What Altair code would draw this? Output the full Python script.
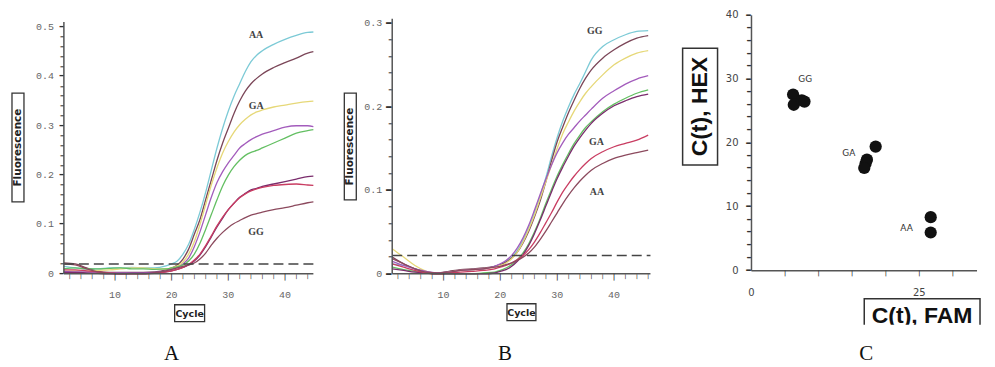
import altair as alt
import pandas as pd

# ---------------- Panel A data (fluorescence vs cycle) ----------------
CYC_A = [1, 3, 5, 7, 9, 11, 13, 15, 17, 19, 20, 21, 22, 23, 24, 25, 26, 27, 28, 29,
         30, 31, 32, 33, 34, 35, 36, 38, 40, 42, 44, 45]
A_CYAN = [0.015, 0.012, 0.010, 0.010, 0.012, 0.012, 0.013, 0.012, 0.012, 0.016, 0.020, 0.026, 0.040, 0.060, 0.090, 0.125,
          0.165, 0.210, 0.255, 0.295, 0.330, 0.360, 0.385, 0.410, 0.430, 0.443, 0.452, 0.465, 0.475, 0.483, 0.489, 0.490]
A_MAROON = [0.022, 0.020, 0.012, 0.005, 0.003, 0.003, 0.003, 0.003, 0.004, 0.008, 0.012, 0.018, 0.030, 0.050, 0.080, 0.110,
            0.150, 0.190, 0.230, 0.265, 0.295, 0.325, 0.350, 0.370, 0.385, 0.396, 0.405, 0.418, 0.428, 0.437, 0.447, 0.450]
A_YELLOW = [0.005, 0.006, 0.006, 0.007, 0.008, 0.010, 0.012, 0.012, 0.010, 0.010, 0.012, 0.016, 0.024, 0.040, 0.065, 0.100,
            0.140, 0.180, 0.215, 0.245, 0.268, 0.287, 0.302, 0.313, 0.322, 0.328, 0.332, 0.338, 0.342, 0.346, 0.349, 0.350]
A_PURPLE = [0.005, 0.004, 0.004, 0.003, 0.002, 0.002, 0.002, 0.002, 0.003, 0.006, 0.009, 0.013, 0.020, 0.032, 0.055, 0.085,
            0.120, 0.155, 0.185, 0.207, 0.225, 0.240, 0.255, 0.264, 0.272, 0.278, 0.283, 0.290, 0.297, 0.300, 0.300, 0.298]
A_GREEN = [0.010, 0.012, 0.010, 0.010, 0.011, 0.012, 0.010, 0.010, 0.009, 0.010, 0.012, 0.014, 0.018, 0.026, 0.040, 0.062,
           0.090, 0.120, 0.150, 0.178, 0.200, 0.217, 0.230, 0.240, 0.246, 0.250, 0.255, 0.265, 0.275, 0.285, 0.290, 0.292]
A_DKPURPLE = [0.003, 0.003, 0.002, 0.001, 0.000, 0.000, 0.001, 0.001, 0.002, 0.004, 0.006, 0.009, 0.013, 0.018, 0.026, 0.038,
              0.055, 0.075, 0.095, 0.113, 0.130, 0.143, 0.155, 0.163, 0.170, 0.173, 0.177, 0.182, 0.187, 0.192, 0.197, 0.198]
A_RED = [0.008, 0.008, 0.006, 0.004, 0.002, 0.000, 0.000, 0.000, 0.001, 0.004, 0.006, 0.009, 0.013, 0.019, 0.028, 0.040,
         0.057, 0.077, 0.097, 0.115, 0.130, 0.143, 0.154, 0.162, 0.168, 0.172, 0.175, 0.179, 0.181, 0.182, 0.180, 0.179]
A_BROWN = [0.020, 0.018, 0.010, 0.004, 0.001, 0.000, 0.000, 0.000, 0.002, 0.006, 0.009, 0.012, 0.015, 0.018, 0.022, 0.030,
           0.042, 0.058, 0.072, 0.084, 0.094, 0.102, 0.108, 0.114, 0.119, 0.122, 0.125, 0.130, 0.134, 0.139, 0.144, 0.146]
A_SERIES = {"a1": A_CYAN, "a2": A_MAROON, "a3": A_YELLOW, "a4": A_PURPLE,
            "a5": A_GREEN, "a6": A_DKPURPLE, "a7": A_RED, "a8": A_BROWN}
A_COLORS = ["#7ccad6", "#7b4658", "#e6d878", "#a35cbc", "#63bf62", "#7a2c6c", "#c93d62", "#8c4a5e"]
A_THRESH = 0.02
A_LABELS = ["AA", "GA", "GG"]
A_LABEL_X = [34.9, 34.9, 34.9]
A_LABEL_Y = [0.484, 0.340, 0.085]

# ---------------- Panel B data ----------------
CYC_B = [1, 3, 5, 7, 9, 11, 13, 15, 17, 19, 20, 21, 22, 23, 24, 25, 26, 27, 28, 29,
         30, 31, 32, 33, 34, 35, 36, 38, 40, 42, 44, 46]
B_CYAN = [0.012, 0.010, 0.006, 0.002, 0.000, 0.002, 0.004, 0.005, 0.006, 0.009, 0.011, 0.015, 0.020, 0.028, 0.040, 0.055,
          0.073, 0.093, 0.115, 0.140, 0.163, 0.183, 0.200, 0.215, 0.228, 0.242, 0.256, 0.272, 0.280, 0.286, 0.290, 0.291]
B_NAVY = [0.020, 0.012, 0.006, 0.002, 0.001, 0.003, 0.005, 0.006, 0.007, 0.009, 0.011, 0.014, 0.019, 0.026, 0.037, 0.051,
          0.068, 0.087, 0.110, 0.135, 0.158, 0.176, 0.193, 0.208, 0.222, 0.234, 0.244, 0.258, 0.268, 0.276, 0.282, 0.285]
B_BROWNRED = [0.030, 0.020, 0.010, 0.003, 0.000, 0.002, 0.004, 0.005, 0.006, 0.008, 0.010, 0.013, 0.018, 0.026, 0.038, 0.053,
              0.070, 0.090, 0.110, 0.130, 0.150, 0.168, 0.182, 0.195, 0.206, 0.216, 0.224, 0.238, 0.250, 0.258, 0.264, 0.267]
B_MAGENTA = [0.015, 0.010, 0.006, 0.003, 0.001, 0.002, 0.004, 0.005, 0.006, 0.009, 0.012, 0.016, 0.022, 0.031, 0.043, 0.058,
             0.076, 0.095, 0.113, 0.130, 0.145, 0.157, 0.167, 0.175, 0.183, 0.190, 0.197, 0.210, 0.219, 0.227, 0.233, 0.237]
B_YELLOW = [0.008, 0.005, 0.003, 0.001, 0.000, 0.000, 0.000, 0.000, 0.001, 0.002, 0.004, 0.007, 0.011, 0.017, 0.025, 0.036,
            0.050, 0.066, 0.084, 0.101, 0.117, 0.131, 0.144, 0.156, 0.166, 0.175, 0.182, 0.194, 0.203, 0.210, 0.216, 0.220]
B_GREEN = [0.006, 0.004, 0.002, 0.001, 0.000, 0.000, 0.000, 0.000, 0.000, 0.001, 0.003, 0.005, 0.009, 0.015, 0.023, 0.034,
           0.048, 0.064, 0.081, 0.098, 0.114, 0.128, 0.141, 0.153, 0.163, 0.172, 0.180, 0.192, 0.201, 0.207, 0.212, 0.215]
B_TEAL = [0.012, 0.008, 0.004, 0.001, 0.000, 0.001, 0.002, 0.003, 0.004, 0.006, 0.008, 0.010, 0.013, 0.017, 0.022, 0.029,
          0.038, 0.049, 0.061, 0.073, 0.086, 0.098, 0.108, 0.117, 0.125, 0.132, 0.138, 0.146, 0.152, 0.156, 0.160, 0.166]
B_DKNAVY = [0.018, 0.012, 0.006, 0.002, 0.001, 0.002, 0.004, 0.005, 0.006, 0.008, 0.009, 0.011, 0.013, 0.016, 0.020, 0.025,
            0.032, 0.041, 0.051, 0.062, 0.073, 0.084, 0.094, 0.103, 0.111, 0.118, 0.124, 0.132, 0.138, 0.142, 0.145, 0.148]
B_SERIES = {"b1": B_CYAN, "b2": B_NAVY, "b3": B_BROWNRED, "b4": B_MAGENTA,
            "b5": B_YELLOW, "b6": B_GREEN, "b7": B_TEAL, "b8": B_DKNAVY}
B_COLORS = ["#70c4d0", "#3c3f70", "#b5585c", "#b856b8", "#d2d25c", "#7cc04c", "#4aaab6", "#34365a"]
B_THRESH = 0.022
B_LABELS = ["GG", "GA", "AA"]
B_LABEL_X = [36.6, 36.9, 37.0]
B_LABEL_Y = [0.290, 0.158, 0.098]

# ---------------- Panel C data (allelic discrimination) ----------------
C_FAM = [6.2, 6.3, 7.5, 7.9, 18.5, 17.2, 17.0, 16.8, 26.7, 26.7]
C_HEX = [27.6, 26.0, 26.7, 26.5, 19.45, 17.4, 16.8, 16.1, 8.4, 6.0]
C_LABELS = ["GG", "GA", "AA"]
C_LABEL_X = [8.0, 14.5, 23.1]
C_LABEL_Y = [30.0, 18.5, 6.7]

# ---------------- ticks and tick labels ----------------
A_XTICKS = list(range(2, 45, 2))
A_XLAB_V = [10, 20, 30, 40]
A_XLAB = ["10", "20", "30", "40"]
A_YTICKS = [round(i * 0.02, 2) for i in range(26)]
A_YLAB_V = [0.0, 0.1, 0.2, 0.3, 0.4, 0.5]
A_YLAB = ["0", "0.1", "0.2", "0.3", "0.4", "0.5"]

B_XTICKS = list(range(2, 47, 2))
B_XLAB_V = [10, 20, 30, 40]
B_XLAB = ["10", "20", "30", "40"]
B_YTICKS = [round(i * 0.02, 2) for i in range(16)]
B_YLAB_V = [0.0, 0.1, 0.2, 0.3]
B_YLAB = ["0", "0.1", "0.2", "0.3"]

C_XTICKS = list(range(0, 31, 5))
C_XLAB_V = [0, 25]
C_XLAB = ["0", "25"]
C_YTICKS = list(range(0, 41, 2))
C_YLAB_V = [0, 10, 20, 30, 40]
C_YLAB = ["0", "10", "20", "30", "40"]

ONE = pd.DataFrame({"k": [0]})
AX = "#555555"
TK = "#333333"
TICKFONT = "Liberation Mono"
VGLYPH = "|"        # vertical tick glyph (x-axis ticks)
HGLYPH = "\u2013"   # en dash (y-axis ticks)


def long_df(cycles, series):
    rows = []
    for name, vals in series.items():
        for c, v in zip(cycles, vals):
            rows.append({"cycle": c, "value": v, "series": name})
    return pd.DataFrame(rows)


def without(vals, drop):
    return [v for v in vals if not any(abs(v - d) < 1e-9 for d in drop)]


def box(x1, x2, y1, y2, sw=1.3):
    return alt.Chart(ONE).mark_rect(fill="white", fillOpacity=0, stroke="#333333", strokeWidth=sw).encode(
        x=alt.value(x1), x2=alt.value(x2), y=alt.value(y1), y2=alt.value(y2))


def txt(text, x, y, **kw):
    return alt.Chart(ONE).mark_text(**kw).encode(x=alt.value(x), y=alt.value(y), text=alt.value(text))


def tick_layer(vals, axis_ch, H, length):
    """Tick marks drawn as glyphs through the panel's own scale."""
    if axis_ch == "x":
        d = pd.DataFrame({"v": vals, "t": [VGLYPH] * len(vals)})
        fs = length
        return alt.Chart(d).mark_text(font="DejaVu Sans", fontWeight="bold", fontSize=fs, color=TK,
                                      baseline="alphabetic", align="center").encode(
            x=alt.X("v:Q", axis=None), y=alt.value(H + 0.76 * fs), text="t:N")
    d = pd.DataFrame({"v": vals, "t": [HGLYPH] * len(vals)})
    fs = 2 * length
    return alt.Chart(d).mark_text(font="DejaVu Sans", fontWeight="bold", fontSize=fs, color=TK,
                                  baseline="alphabetic", align="right", dy=0.285 * fs).encode(
        y=alt.Y("v:Q", axis=None), x=alt.value(0), text="t:N")


def axis_marks(xt, xlv, xl, yt, ylv, yl, H, xlen_minor, xlen_major, ylen_minor, ylen_major,
               xlab_dy, ylab_dx, font, fsize, fcolor, x_skip=()):
    xl_df = pd.DataFrame({"v": xlv, "t": xl})
    yl_df = pd.DataFrame({"v": ylv, "t": yl})
    x_minor = without(xt, list(xlv) + list(x_skip))
    x_major = without(xlv, list(x_skip))
    y_minor = without(yt, ylv)
    return [
        tick_layer(x_minor, "x", H, xlen_minor),
        tick_layer(x_major, "x", H, xlen_major),
        alt.Chart(xl_df).mark_text(font=font, fontSize=fsize, color=fcolor, baseline="middle",
                                   align="center").encode(
            x=alt.X("v:Q", axis=None), y=alt.value(H + xlab_dy), text="t:N"),
        tick_layer(y_minor, "y", H, ylen_minor),
        tick_layer(ylv, "y", H, ylen_major),
        alt.Chart(yl_df).mark_text(font=font, fontSize=fsize, color=fcolor, baseline="middle",
                                   align="right").encode(
            y=alt.Y("v:Q", axis=None), x=alt.value(-ylab_dx), text="t:N"),
    ]


def curve_panel(cycles, series, colors, xdom, xend, ydom, ytop, ticks, thresh,
                labels, lx, ly, width, height, box_fl, box_cy, letter, letter_x, ymajor):
    df = long_df(cycles, series)
    names = list(series.keys())
    lines = alt.Chart(df).mark_line(interpolate="monotone", strokeWidth=1.3).encode(
        x=alt.X("cycle:Q", scale=alt.Scale(domain=xdom, nice=False, zero=False), axis=None),
        y=alt.Y("value:Q", scale=alt.Scale(domain=ydom, nice=False, zero=False), axis=None),
        color=alt.Color("series:N", scale=alt.Scale(domain=names, range=colors), legend=None),
    )
    xline = alt.Chart(ONE).mark_rule(color=AX, strokeWidth=1.5).encode(
        x=alt.XDatum(xdom[0], axis=None), x2=alt.X2Datum(xend), y=alt.value(height))
    yline = alt.Chart(ONE).mark_rule(color=AX, strokeWidth=1.5).encode(
        x=alt.value(0), y=alt.YDatum(0, axis=None), y2=alt.Y2Datum(ytop))
    thr = alt.Chart(ONE).mark_rule(color="#444444", strokeWidth=1.5, strokeDash=[10, 5]).encode(
        x=alt.XDatum(xdom[0], axis=None), x2=alt.X2Datum(xend), y=alt.YDatum(thresh, axis=None))
    ldf = pd.DataFrame({"cycle": lx, "value": ly, "t": labels})
    lab = alt.Chart(ldf).mark_text(font="Liberation Serif", fontSize=10, fontWeight="bold",
                                   color="#444444").encode(
        x=alt.X("cycle:Q", axis=None), y=alt.Y("value:Q", axis=None), text="t:N")
    fx1, fx2, fy1, fy2 = box_fl
    cx1, cx2, cy1, cy2 = box_cy
    parts = [lines, thr, xline, yline, lab]
    parts += axis_marks(*ticks, height, 5, 7, 4, ymajor, 21, 10, TICKFONT, 10, "#666666")
    parts += [
        box(fx1, fx2, fy1, fy2),
        txt("Fluorescence", (fx1 + fx2) / 2, (fy1 + fy2) / 2, angle=270, font="DejaVu Sans",
            fontSize=10.5, fontWeight="bold", color="#222222", baseline="middle", align="center"),
        box(cx1, cx2, cy1, cy2),
        txt("Cycle", (cx1 + cx2) / 2, (cy1 + cy2) / 2 + 0.5, font="DejaVu Sans", fontSize=9.5,
            fontWeight="bold", color="#222222", baseline="middle", align="center"),
        txt(letter, letter_x, 345, font="Liberation Serif", fontSize=21, color="#111111",
            baseline="alphabetic", align="center"),
    ]
    return alt.layer(*parts).properties(width=width, height=height)


panelA = curve_panel(CYC_A, A_SERIES, A_COLORS, [1, 45], 45, [0, 0.5237], 0.51,
                     (A_XTICKS, A_XLAB_V, A_XLAB, A_YTICKS, A_YLAB_V, A_YLAB),
                     A_THRESH, A_LABELS, A_LABEL_X, A_LABEL_Y, 250, 259,
                     (-52, -40, 78, 187), (111, 141, 290, 307), "A", 108, 5)
panelB = curve_panel(CYC_B, B_SERIES, B_COLORS, [1, 50.3], 46.4, [0, 0.3092], 0.305,
                     (B_XTICKS, B_XLAB_V, B_XLAB, B_YTICKS, B_YLAB_V, B_YLAB),
                     B_THRESH, B_LABELS, B_LABEL_X, B_LABEL_Y, 281, 259,
                     (-48, -36, 78, 185), (115, 144, 289, 306), "B", 113, 7)

# ---------------- Panel C ----------------
CH = 256
cdf = pd.DataFrame({"fam": C_FAM, "hex": C_HEX})
pts = alt.Chart(cdf).mark_circle(size=150, color="#111111", opacity=1).encode(
    x=alt.X("fam:Q", scale=alt.Scale(domain=[0, 33.6], nice=False, zero=False), axis=None),
    y=alt.Y("hex:Q", scale=alt.Scale(domain=[0, 40], nice=False, zero=False), axis=None),
)
cldf = pd.DataFrame({"fam": C_LABEL_X, "hex": C_LABEL_Y, "t": C_LABELS})
clab = alt.Chart(cldf).mark_text(font="DejaVu Sans", fontSize=9, color="#333333").encode(
    x=alt.X("fam:Q", axis=None), y=alt.Y("hex:Q", axis=None), text="t:N")
c_xline = alt.Chart(ONE).mark_rule(color=AX, strokeWidth=1.5).encode(
    x=alt.value(0), x2=alt.value(226), y=alt.value(CH))
c_yline = alt.Chart(ONE).mark_rule(color=AX, strokeWidth=1.5).encode(
    x=alt.value(0), y=alt.value(0), y2=alt.value(CH))
c_parts = [pts, clab, c_xline, c_yline]
c_parts += axis_marks(C_XTICKS, C_XLAB_V, C_XLAB, C_YTICKS, C_YLAB_V, C_YLAB, CH, 6, 6, 5, 6,
                      22, 13, "DejaVu Sans", 10, "#444444", x_skip=[0])
c_parts += [
    box(-69, -34, 33, 150, sw=1.5),
    txt("C(t), HEX", -51.5, 91.5, angle=270, font="Liberation Sans", fontSize=23, fontWeight="bold",
        color="#111111", baseline="middle", align="center"),
    box(113, 229, 284, 320, sw=1.5),
    txt("C(t), FAM", 171, 308, font="Liberation Sans", fontSize=23, fontWeight="bold",
        color="#111111", baseline="alphabetic", align="center"),
    alt.Chart(ONE).mark_rect(fill="white", stroke=None).encode(
        x=alt.value(105), x2=alt.value(236), y=alt.value(310), y2=alt.value(326)),
    txt("C", 115, 345, font="Liberation Serif", fontSize=21, color="#111111",
        baseline="alphabetic", align="center"),
]
panelC = alt.layer(*c_parts).properties(width=226, height=CH)

chart = alt.hconcat(panelA, panelB, panelC, spacing=79, bounds="flush").properties(
    padding={"left": 3, "top": 0, "right": 0, "bottom": 0}
).configure_view(stroke=None)

chart.save("out.html", embed_options={"renderer": "svg", "actions": False})
